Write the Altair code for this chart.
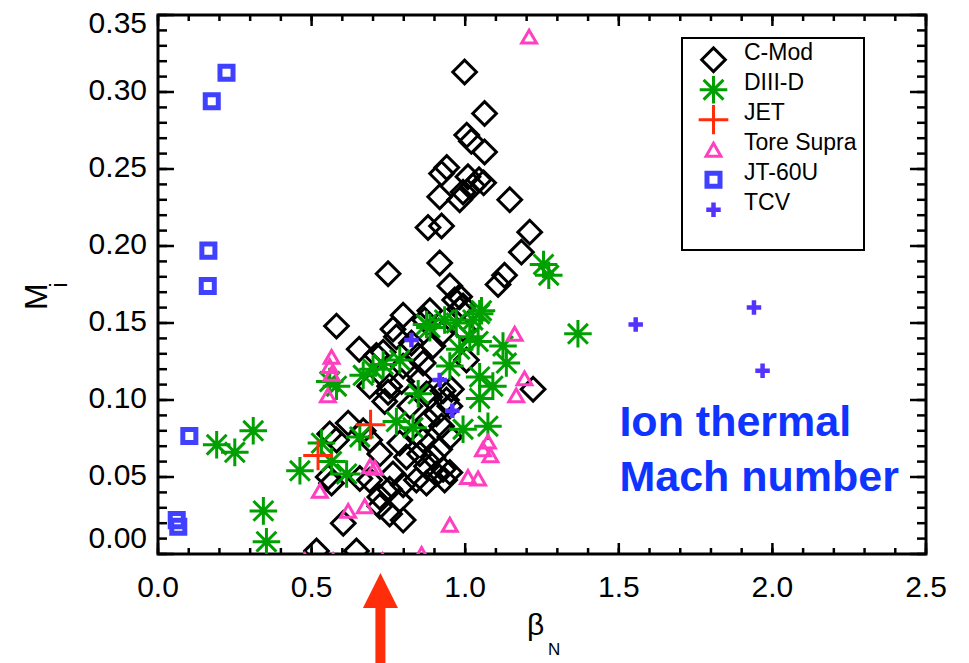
import altair as alt
import pandas as pd

# ---------------- data ----------------
series_names = ["C-Mod", "DIII-D", "JET", "Tore Supra", "JT-60U", "TCV"]

cmod_beta = [0.998, 1.063, 1.005, 1.020, 1.063, 0.923, 0.940, 1.009, 1.045, 1.060,
             1.025, 0.993, 0.917, 0.982, 1.145, 0.879, 0.923, 1.210, 1.183, 0.917,
             0.749, 0.950, 1.128, 1.107, 0.581, 0.798, 0.765, 0.655, 0.982, 0.993,
             0.868, 0.733, 0.847, 0.895, 1.004, 0.689, 0.749, 0.738, 0.793, 0.820,
             0.874, 0.906, 0.879, 0.939, 0.955, 0.923, 1.221, 0.559, 0.619, 0.581,
             0.668, 0.689, 0.722, 0.787, 0.809, 0.852, 0.895, 0.917, 0.874, 0.906,
             0.928, 0.841, 0.874, 0.765, 0.798, 0.754, 0.722, 0.787, 0.722, 0.754,
             0.798, 0.689, 0.657, 0.603, 0.554, 0.565, 0.516, 0.646, 0.841, 0.863,
             0.950, 0.776, 0.711, 0.825, 0.885, 0.923, 0.966, 0.982, 0.993, 0.852,
             0.885, 0.928, 0.950, 0.863, 0.798, 0.754, 0.950, 0.933]
cmod_mach = [0.313, 0.286, 0.272, 0.268, 0.261, 0.247, 0.251, 0.245, 0.243, 0.241,
             0.239, 0.235, 0.232, 0.230, 0.230, 0.212, 0.213, 0.209, 0.196, 0.189,
             0.182, 0.174, 0.181, 0.175, 0.148, 0.155, 0.146, 0.133, 0.167, 0.161,
             0.152, 0.131, 0.129, 0.135, 0.126, 0.109, 0.105, 0.099, 0.112, 0.096,
             0.104, 0.091, 0.087, 0.100, 0.107, 0.083, 0.107, 0.078, 0.085, 0.074,
             0.080, 0.074, 0.065, 0.072, 0.063, 0.065, 0.063, 0.068, 0.057, 0.052,
             0.055, 0.048, 0.046, 0.052, 0.045, 0.042, 0.037, 0.035, 0.031, 0.026,
             0.022, 0.048, 0.049, 0.020, 0.050, 0.046, 0.002, 0.002, 0.078, 0.074,
             0.076, 0.141, 0.129, 0.137, 0.158, 0.143, 0.165, 0.159, 0.146, 0.113,
             0.102, 0.106, 0.096, 0.124, 0.122, 0.109, 0.053, 0.048]

diiid_beta = [1.255, 1.272, 1.367, 0.191, 0.250, 0.310, 0.462, 0.343, 0.353, 0.559,
              0.581, 0.532, 0.565, 0.614, 0.668, 0.657, 0.733, 0.787, 0.776, 0.830,
              0.847, 0.885, 0.933, 0.950, 0.993, 0.982, 1.025, 1.047, 1.042, 1.047,
              1.047, 1.090, 1.074, 1.123, 1.134, 0.874, 0.971, 1.053, 1.015, 0.700]
diiid_mach = [0.188, 0.181, 0.143, 0.071, 0.066, 0.080, 0.054, 0.028, 0.008, 0.112,
              0.109, 0.072, 0.060, 0.052, 0.116, 0.076, 0.123, 0.126, 0.086, 0.082,
              0.104, 0.147, 0.152, 0.122, 0.081, 0.133, 0.152, 0.156, 0.138, 0.115,
              0.101, 0.109, 0.083, 0.135, 0.124, 0.149, 0.150, 0.158, 0.141, 0.120]

jet_beta = [0.692, 0.521]
jet_mach = [0.084, 0.064]

ts_beta = [1.208, 0.565, 0.559, 0.565, 0.553, 1.161, 1.193, 1.166, 1.074, 1.058,
           1.082, 1.009, 1.042, 0.950, 0.706, 0.690, 0.527, 0.619, 0.673, 0.478,
           0.570, 0.731, 0.858]
ts_mach = [0.336, 0.128, 0.122, 0.117, 0.103, 0.143, 0.114, 0.103, 0.073, 0.068,
           0.064, 0.050, 0.049, 0.019, 0.056, 0.057, 0.041, 0.028, 0.031, -0.004,
           -0.004, -0.004, 0.000]

jt60u_beta = [0.223, 0.175, 0.164, 0.162, 0.102, 0.061, 0.066]
jt60u_mach = [0.3125, 0.294, 0.197, 0.174, 0.0766, 0.022, 0.0177]

tcv_beta = [1.555, 1.940, 1.968, 0.825, 0.917, 0.958]
tcv_mach = [0.149, 0.160, 0.119, 0.139, 0.113, 0.093]

# axis ticks and labels
x_major = [0.0, 0.5, 1.0, 1.5, 2.0, 2.5]
x_labels = ["0.0", "0.5", "1.0", "1.5", "2.0", "2.5"]
x_minor = [round(i * 0.1, 1) for i in range(26)]
y_major = [0.0, 0.05, 0.10, 0.15, 0.20, 0.25, 0.30, 0.35]
y_labels = ["0.00", "0.05", "0.10", "0.15", "0.20", "0.25", "0.30", "0.35"]
y_minor = [round(i * 0.01, 2) for i in range(36)]

# annotations
note_lines = ["Ion thermal", "Mach number"]
note_beta = [1.502, 1.502]
note_mach = [0.0766, 0.0410]
arrow_beta = 0.724
arrow_head_mach = -0.0237
arrow_tail_mach = [-0.0320, -0.0760]

# ---------------- styling ----------------
W, H = 768, 539
FONT = "Liberation Sans"

colors = ["#000000", "#00a000", "#ff2d0a", "#ff3fbf", "#4040ff", "#5533ff"]
ASTER = "M0,-1L0,1M-1,0L1,0M-0.72,-0.72L0.72,0.72M-0.72,0.72L0.72,-0.72"
PLUS = "M0,-1L0,1M-1,0L1,0"
shapes = ["diamond", ASTER, PLUS, "triangle-up", "square", PLUS]
sizes = [560, 760, 880, 220, 170, 210]
widths = [3, 3, 3, 3, 5, 4.5]

rows = []
for name, bx, my in [("C-Mod", cmod_beta, cmod_mach), ("DIII-D", diiid_beta, diiid_mach),
                     ("JET", jet_beta, jet_mach), ("Tore Supra", ts_beta, ts_mach),
                     ("JT-60U", jt60u_beta, jt60u_mach), ("TCV", tcv_beta, tcv_mach)]:
    for b, m in zip(bx, my):
        rows.append({"series": name, "beta": b, "mach": m})
df = pd.DataFrame(rows)

xscale = alt.Scale(domain=[0, 2.5], nice=False, zero=False)
yscale = alt.Scale(domain=[0, 0.35], nice=False, zero=False)

points = alt.Chart(df).mark_point(filled=False, clip=True, opacity=1).encode(
    x=alt.X("beta:Q", scale=xscale, axis=None),
    y=alt.Y("mach:Q", scale=yscale, axis=None),
    color=alt.Color("series:N", scale=alt.Scale(domain=series_names, range=colors),
                    legend=alt.Legend(orient="none", legendX=524, legendY=23, title=" ",
                                      titleOrient="bottom", titleFontSize=10, titlePadding=8,
                                      strokeColor="black", padding=7, clipHeight=29.5,
                                      rowPadding=-4.5, symbolOffset=8, labelFont=FONT,
                                      labelFontSize=23, labelColor="black",
                                      labelBaseline="alphabetic", labelOffset=14)),
    shape=alt.Shape("series:N", scale=alt.Scale(type="ordinal", domain=series_names, range=shapes)),
    size=alt.Size("series:N", scale=alt.Scale(type="ordinal", domain=series_names, range=sizes)),
    strokeWidth=alt.StrokeWidth("series:N",
                                scale=alt.Scale(type="ordinal", domain=series_names, range=widths)),
)


def ticks_y(values, length, side):
    d = pd.DataFrame({"v": values})
    if side == "left":
        xx = dict(x=alt.value(0), x2=alt.value(length))
    else:
        xx = dict(x=alt.value(W - length), x2=alt.value(W))
    return alt.Chart(d).mark_rule(color="black", strokeWidth=2.5).encode(
        y=alt.Y("v:Q", scale=yscale, axis=None), **xx)


def ticks_x(values, length, side):
    d = pd.DataFrame({"v": values})
    if side == "top":
        yy = dict(y=alt.value(0), y2=alt.value(length))
    else:
        yy = dict(y=alt.value(H - length), y2=alt.value(H))
    return alt.Chart(d).mark_rule(color="black", strokeWidth=2.5).encode(
        x=alt.X("v:Q", scale=xscale, axis=None), **yy)


tick_layers = [
    ticks_y(y_minor, 9, "left"), ticks_y(y_major, 16, "left"),
    ticks_y(y_minor, 9, "right"), ticks_y(y_major, 16, "right"),
    ticks_x(x_minor, 6, "top"), ticks_x(x_major, 11, "top"),
    ticks_x(x_minor, 6, "bottom"), ticks_x(x_major, 11, "bottom"),
]

# tick labels
xl_df = pd.DataFrame({"v": x_major, "t": x_labels})
x_lab = alt.Chart(xl_df).mark_text(font=FONT, fontSize=30, align="center", baseline="middle",
                                   color="black").encode(
    x=alt.X("v:Q", scale=xscale, axis=None), y=alt.value(H + 34), text="t:N")


def y_label_layer(lo, hi, dy):
    d = pd.DataFrame({"v": y_major[lo:hi], "t": y_labels[lo:hi]})
    return alt.Chart(d).mark_text(font=FONT, fontSize=30, align="right", baseline="middle",
                                  color="black", dy=dy).encode(
        x=alt.value(-11), y=alt.Y("v:Q", scale=yscale, axis=None), text="t:N")


y_labs = [y_label_layer(0, 1, -15), y_label_layer(1, 7, -1), y_label_layer(7, 8, 9)]

note_df = pd.DataFrame({"t": note_lines, "b": note_beta, "m": note_mach})
note = alt.Chart(note_df).mark_text(align="left", baseline="alphabetic", font=FONT,
                                    fontSize=43, fontWeight="bold", color="#1034ff").encode(
    x=alt.X("b:Q", scale=xscale, axis=None),
    y=alt.Y("m:Q", scale=yscale, axis=None),
    text="t:N")

arrow_df = pd.DataFrame({"b": [arrow_beta], "m1": [arrow_tail_mach[0]], "m2": [arrow_tail_mach[1]],
                         "h": [arrow_head_mach]})
arrow_shaft = alt.Chart(arrow_df).mark_rule(color="#ff2d0a", strokeWidth=10).encode(
    x=alt.X("b:Q", scale=xscale, axis=None),
    y=alt.Y("m1:Q", scale=yscale, axis=None), y2="m2:Q")
arrow_head = alt.Chart(arrow_df).mark_point(shape="M0,-1L1,1L-1,1Z", filled=True, size=1225,
                                            color="#ff2d0a", opacity=1).encode(
    x=alt.X("b:Q", scale=xscale, axis=None),
    y=alt.Y("h:Q", scale=yscale, axis=None))

title_df = pd.DataFrame({"k": [0]})
m_title = alt.Chart(title_df).mark_text(text="M", font=FONT, fontSize=32, angle=270,
                                        align="center", baseline="alphabetic", color="black").encode(
    x=alt.value(46.7 - 158), y=alt.value(296.7 - 15))
i_title = alt.Chart(title_df).mark_text(text="i", font=FONT, fontSize=23, angle=270,
                                        align="center", baseline="alphabetic", color="black").encode(
    x=alt.value(67 - 158), y=alt.value(285 - 15))
b_title = alt.Chart(title_df).mark_text(text="β", font=FONT, fontSize=30, align="left",
                                        baseline="alphabetic", color="black").encode(
    x=alt.value(527 - 158), y=alt.value(635 - 15))
n_title = alt.Chart(title_df).mark_text(text="N", font=FONT, fontSize=17, align="left",
                                        baseline="alphabetic", color="black").encode(
    x=alt.value(548 - 158), y=alt.value(655 - 15))

chart = alt.layer(
    points, *tick_layers, x_lab, *y_labs, note, arrow_shaft, arrow_head,
    m_title, i_title, b_title, n_title
).properties(
    width=W, height=H,
    autosize=alt.AutoSizeParams(type="none"),
    padding={"left": 158, "top": 15, "right": 43, "bottom": 109},
    background="white",
).configure_view(
    stroke="black", strokeWidth=3
).configure_legend(
    strokeWidth=2
)

chart.save("out.html", embed_options={"renderer": "svg", "actions": False})
